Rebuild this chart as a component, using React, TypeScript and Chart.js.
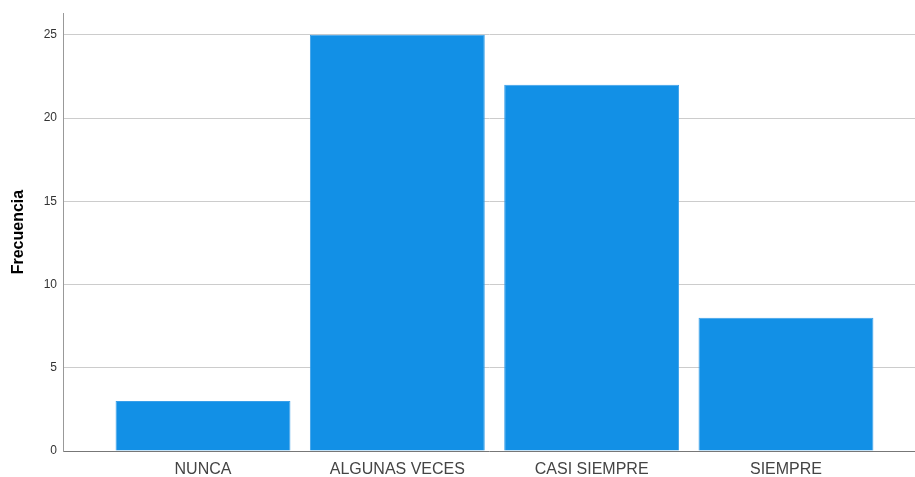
import React, { useEffect, useRef } from "react";
import { Chart, registerables } from "chart.js";

Chart.register(...registerables);

const categories: string[] = ["NUNCA", "ALGUNAS VECES", "CASI SIEMPRE", "SIEMPRE"];
const frequencies: number[] = [3, 25, 22, 8];
const yTicks: number[] = [0, 5, 10, 15, 20, 25];

export default function App() {
  const ref = useRef<HTMLCanvasElement | null>(null);

  useEffect(() => {
    document.body.style.margin = "0";
    const canvas = ref.current;
    if (!canvas) return;
    const chart = new Chart(canvas, {
      type: "bar",
      data: {
        datasets: [
          {
            label: "Frecuencia",
            data: frequencies.map((v, i) => ({ x: i, y: v })),
            backgroundColor: "#1290e6",
            borderColor: "#3a9fe9",
            borderWidth: 1,
            barPercentage: 0.9,
            categoryPercentage: 1,
          },
        ],
      },
      options: {
        responsive: false,
        animation: false,
        maintainAspectRatio: false,
        layout: { padding: { top: 13, left: 0, right: 0, bottom: 0 } },
        plugins: { legend: { display: false }, tooltip: { enabled: false }, title: { display: false } },
        scales: {
          x: {
            type: "linear",
            offset: false,
            min: -0.7205,
            max: 3.664,
            afterBuildTicks: (scale: any) => {
              scale.ticks = categories.map((_, i) => ({ value: i }));
            },
            afterFit: (scale: any) => {
              scale.height = 26;
            },
            grid: { display: false, drawTicks: false },
            border: { display: true, color: "#777777", width: 1 },
            ticks: {
              autoSkip: false,
              maxRotation: 0,
              padding: 9,
              color: "#444444",
              font: { family: "'Liberation Sans', Arial, sans-serif", size: 16 },
              callback: (v: any) => {
                const i = Math.round(Number(v));
                return categories[i] ?? "";
              },
            },
          },
          y: {
            min: 0,
            max: 26.3,
            afterBuildTicks: (scale: any) => {
              scale.ticks = yTicks.map((v) => ({ value: v }));
            },
            afterFit: (scale: any) => {
              scale.width = 63;
            },
            grid: {
              color: (ctx: any) => (ctx.tick && ctx.tick.value === 0 ? "rgba(0,0,0,0)" : "#cccccc"),
              lineWidth: 1,
              drawTicks: false,
            },
            border: { display: true, color: "#999999", width: 1 },
            ticks: {
              padding: 6,
              color: "#333333",
              font: { family: "'Liberation Sans', Arial, sans-serif", size: 12 },
            },
            title: {
              display: true,
              text: "Frecuencia",
              color: "#000000",
              padding: { top: 9, bottom: 0 },
              font: { family: "'Liberation Sans', Arial, sans-serif", size: 16, weight: "bold" },
            },
          },
        },
      },
    });
    return () => chart.destroy();
  }, []);

  return (
    <div style={{ width: 915, height: 477, background: "#ffffff" }}>
      <canvas ref={ref} width={915} height={477} style={{ display: "block" }} />
    </div>
  );
}
